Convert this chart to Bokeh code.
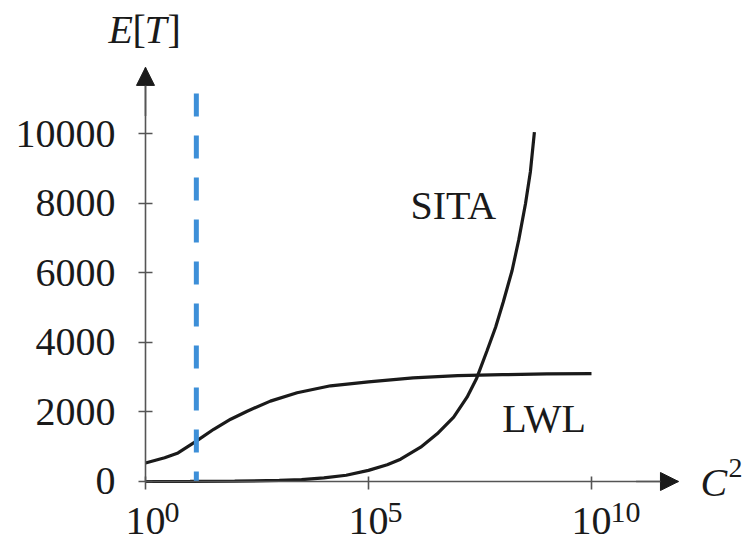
import numpy as np
from bokeh.plotting import figure
from bokeh.models import Label, Arrow, NormalHead, FixedTicker, Range1d
from bokeh.embed import file_html
from bokeh.resources import INLINE
from bokeh.core.properties import value

# ---- data (x given as log10 of C^2, y as E[T]) ----
lwl_exp = [0, 0.43, 0.73, 1.14, 1.53, 1.91, 2.28, 2.8, 3.4, 4.15, 5.0, 6.0, 7.0, 8.0, 9.0, 10.0]
lwl_val = [530, 680, 820, 1160, 1500, 1790, 2020, 2310, 2550, 2750, 2860, 2980, 3040, 3070, 3090, 3100]

sita_exp = [0, 1, 2, 3, 3.5, 4.0, 4.5, 5.0, 5.42, 5.72, 6.17, 6.54, 6.91, 7.21, 7.42,
            7.66, 7.85, 8.02, 8.22, 8.37, 8.52, 8.63, 8.72]
sita_val = [0, 2, 8, 30, 55, 105, 180, 320, 480, 640, 986, 1371, 1848, 2422, 2950,
            3764, 4434, 5150, 6063, 6950, 7980, 8900, 10037]

threshold_exp = [1.14, 1.14]
threshold_val = [11150, 0]

y_ticks = [0, 2000, 4000, 6000, 8000, 10000]
x_tick_exp = [0, 5, 10]
x_tick_base = "10"
x_tick_sup = ["0", "5", "10"]

series_labels = ["SITA", "LWL"]
series_label_exp = [5.94, 8.0]
series_label_val = [7931, 1810]

FONT = "Liberation Serif"
INK = "#1a1a1a"
AXIS = "#555555"

# visible axis extents
x_axis_end = 10 ** 11.95
y_axis_end = 11900

p = figure(width=747, height=543, x_axis_type="log",
           x_range=Range1d(10 ** -3.251, 10 ** 13.498),
           y_range=Range1d(-1782, 13822),
           output_backend="svg", toolbar_location=None,
           min_border=0)
p.outline_line_color = None
p.grid.visible = False
p.background_fill_color = "white"
p.border_fill_color = "white"

to_x = lambda e: [10 ** v for v in e]

p.line(to_x(lwl_exp), lwl_val, line_color=INK, line_width=3.2)
p.line(to_x(sita_exp), sita_val, line_color=INK, line_width=3.2)
p.line(to_x(threshold_exp), threshold_val, line_color="#3d8fd8",
       line_width=5, line_dash="23 19")

p.text(to_x(series_label_exp), series_label_val, text=series_labels,
       text_font=value(FONT), text_font_size="40px", text_color=INK,
       text_baseline="alphabetic", text_align="left")

# axes (drawn at data positions inside the frame)
xa = p.xaxis[0]
xa.fixed_location = 0
xa.bounds = (1, x_axis_end)
xa.ticker = FixedTicker(ticks=to_x(x_tick_exp), minor_ticks=[])
xa.major_label_overrides = {10 ** e: x_tick_base for e in x_tick_exp}
xa.major_tick_in = 5
xa.major_tick_out = 8
xa.major_label_standoff = 19

ya = p.yaxis[0]
ya.fixed_location = 1
ya.bounds = (0, y_axis_end)
ya.ticker = FixedTicker(ticks=y_ticks, minor_ticks=[])
ya.major_tick_in = 7
ya.major_tick_out = 7
ya.major_label_standoff = 23

for ax in (xa, ya):
    ax.axis_line_color = AXIS
    ax.axis_line_width = 1.6
    ax.major_tick_line_color = AXIS
    ax.major_tick_line_width = 1.6
    ax.minor_tick_line_color = None
    ax.major_label_text_font = FONT
    ax.major_label_text_font_size = "40px"
    ax.major_label_text_color = INK

# exponents of the x tick labels
for e, s in zip(x_tick_exp, x_tick_sup):
    p.add_layout(Label(x=10 ** e, y=-891, x_offset=19, text=s, text_font=FONT,
                       text_font_size="30px", text_align="left",
                       text_baseline="alphabetic", text_color=INK))

head = dict(size=18, fill_color=INK, line_color=INK)
p.add_layout(Arrow(end=NormalHead(**head), x_start=1, y_start=10500,
                   x_end=1, y_end=y_axis_end, line_color=AXIS, line_width=1.6))
p.add_layout(Arrow(end=NormalHead(**head), x_start=10 ** 11, y_start=0,
                   x_end=x_axis_end, y_end=0, line_color=AXIS, line_width=1.6))

# y axis title E[T] (italic letters, upright brackets)
for txt, off, style in [("E", -37, "italic"), ("[", -13, "normal"),
                        ("T", -1, "italic"), ("]", 22, "normal")]:
    p.add_layout(Label(x=1, y=12989, x_offset=off, text=txt, text_font=FONT,
                       text_font_style=style, text_font_size="40px",
                       text_align="left", text_baseline="alphabetic", text_color=INK))

# x axis title C^2
p.add_layout(Label(x=10 ** 12.444, y=-29, text="C", text_font=FONT,
                   text_font_style="italic", text_font_size="40px",
                   text_align="left", text_baseline="alphabetic", text_color=INK))
p.add_layout(Label(x=10 ** 13.07, y=388, text="2", text_font=FONT,
                   text_font_size="28px", text_align="left",
                   text_baseline="alphabetic", text_color=INK))

open("out.html", "w").write(file_html(p, INLINE))
